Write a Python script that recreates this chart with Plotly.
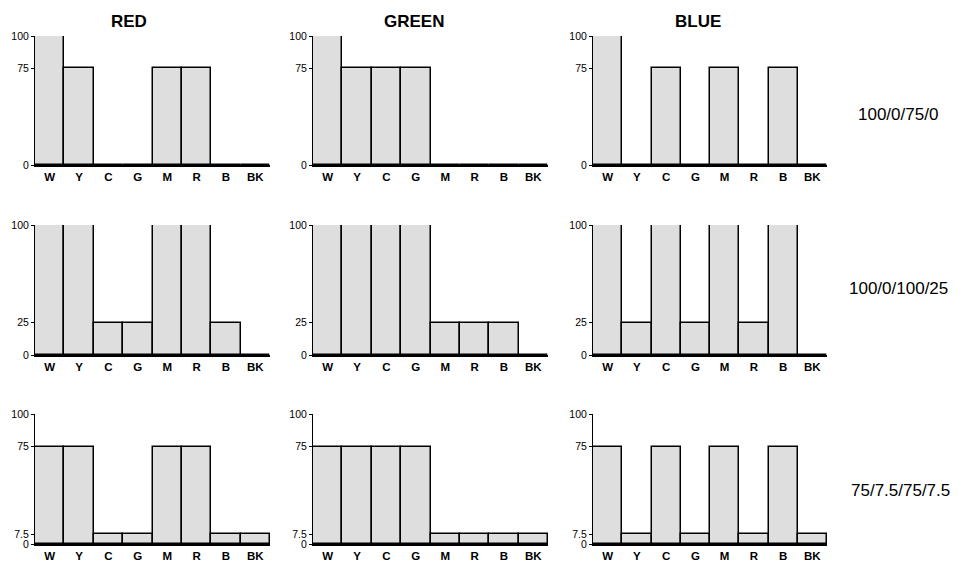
import plotly.graph_objects as go

# The page body adds an 8px margin, so the figure is sized/placed to compensate
OFF = 8
W, H = 959 - OFF, 562 - OFF

categories = ["W", "Y", "C", "G", "M", "R", "B", "BK"]
channels = ["RED", "GREEN", "BLUE"]
row_labels = ["100/0/75/0", "100/0/100/25", "75/7.5/75/7.5"]

# row 1: 100/0/75/0
red_1 = [100, 75, 0, 0, 75, 75, 0, 0]
green_1 = [100, 75, 75, 75, 0, 0, 0, 0]
blue_1 = [100, 0, 75, 0, 75, 0, 75, 0]
# row 2: 100/0/100/25
red_2 = [100, 100, 25, 25, 100, 100, 25, 0]
green_2 = [100, 100, 100, 100, 25, 25, 25, 0]
blue_2 = [100, 25, 100, 25, 100, 25, 100, 0]
# row 3: 75/7.5/75/7.5
red_3 = [75, 75, 7.5, 7.5, 75, 75, 7.5, 7.5]
green_3 = [75, 75, 75, 75, 7.5, 7.5, 7.5, 7.5]
blue_3 = [75, 7.5, 75, 7.5, 75, 7.5, 75, 7.5]

y_ticks_1 = [0, 75, 100]
y_ticks_2 = [0, 25, 100]
y_ticks_3 = [0, 7.5, 75, 100]

rows = [
    ([red_1, green_1, blue_1], y_ticks_1),
    ([red_2, green_2, blue_2], y_ticks_2),
    ([red_3, green_3, blue_3], y_ticks_3),
]

# target pixel layout in the 959x562 window
col_px = [(35, 270), (313, 548), (593, 827)]
row_px = [(36, 165), (225, 355), (414, 544)]  # (top, bottom)
title_x_px = [129, 414, 698]
title_y_px = 21
row_label_x_px = [856, 847, 849]
row_label_y_px = [114, 288, 490]


def fx(p):
    return (p - OFF) / W


def fy(p):
    return (H - (p - OFF)) / H


FONT = "Liberation Sans, Arial, Helvetica, sans-serif"

fig = go.Figure()
layout = dict(
    width=W, height=H,
    margin=dict(l=0, r=0, t=0, b=0, pad=0, autoexpand=False),
    plot_bgcolor="white", paper_bgcolor="white",
    showlegend=False, bargap=0,
    font=dict(family=FONT, color="black"),
    annotations=[],
)

n = 0
for r, (series, yticks) in enumerate(rows):
    top, bot = row_px[r]
    for c in range(3):
        n += 1
        sfx = "" if n == 1 else str(n)
        x0, x1 = col_px[c]
        fig.add_trace(go.Bar(
            x=categories, y=series[c],
            xaxis="x" + sfx, yaxis="y" + sfx,
            marker=dict(color="#dedede", line=dict(color="black", width=1.5)),
            width=1.0,
        ))
        layout["xaxis" + sfx] = dict(
            domain=[fx(x0), fx(x1)], anchor="y" + sfx,
            range=[-0.5, 7.5], showline=True, linecolor="black", linewidth=2.2,
            ticks="", showgrid=False, zeroline=False, fixedrange=True,
            automargin=False,
            tickfont=dict(size=11.5, family=FONT, weight="bold"),
            ticklabelstandoff=0,
        )
        layout["yaxis" + sfx] = dict(
            domain=[fy(bot), fy(top)], anchor="x" + sfx,
            range=[0, 100], showline=True, linecolor="black", linewidth=1,
            ticks="outside", ticklen=3, tickcolor="black", tickwidth=1,
            tickvals=yticks, ticktext=[str(v) for v in yticks],
            showgrid=False, zeroline=False, fixedrange=True,
            automargin=False,
            tickfont=dict(size=10.5, family=FONT),
        )

for c, name in enumerate(channels):
    layout["annotations"].append(dict(
        text="<b>" + name + "</b>", x=fx(title_x_px[c]), y=fy(title_y_px),
        xref="paper", yref="paper", xanchor="center", yanchor="middle",
        showarrow=False, font=dict(size=17, family=FONT, color="black"),
    ))
for r, lab in enumerate(row_labels):
    layout["annotations"].append(dict(
        text=lab, x=fx(row_label_x_px[r]), y=fy(row_label_y_px[r]),
        xref="paper", yref="paper", xanchor="left", yanchor="middle",
        showarrow=False, font=dict(size=17, family=FONT, color="black"),
    ))

fig.update_layout(**layout)
fig.write_html("out.html")
